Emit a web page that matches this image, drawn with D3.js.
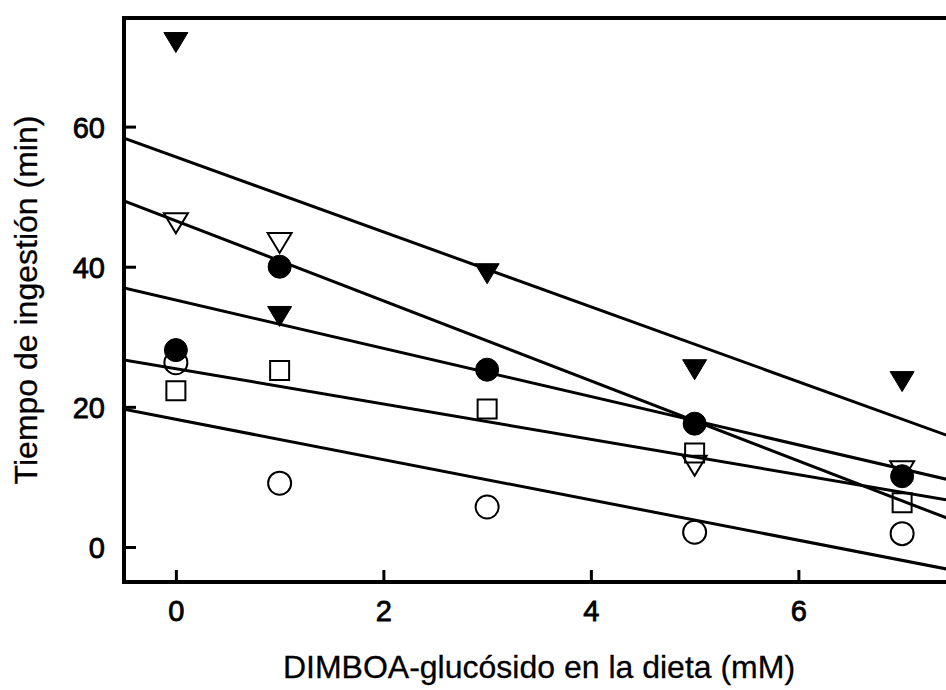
<!DOCTYPE html>
<html>
<head>
<meta charset="utf-8">
<script src="https://cdn.jsdelivr.net/npm/d3@7"></script>
<style>
  html, body { margin: 0; padding: 0; background: #fff; overflow: hidden; }
  svg { display: block; }
  text { font-family: "Liberation Sans", Arial, Helvetica, sans-serif; fill: #000; }
</style>
</head>
<body>
<svg id="chart" width="946" height="690"></svg>
<script>
// Dietary DIMBOA-glucoside concentration (mM)
const doses = [0, 1, 3, 5, 7];

// Feeding time (min) for each group at each dose (null = not measured)
const filledTriangle = [72.0, 32.9, 39.0, 25.3, 23.6];
const openTriangle   = [46.2, 43.4, null, 11.6, 10.8];
const filledCircle   = [28.1, 40.0, 25.3, 17.6, 10.1];
const openCircle     = [26.3, 9.1, 5.7, 2.1, 1.9];
const openSquare     = [22.3, 25.2, 19.7, 13.4, 6.3];

const xTicks = [0, 2, 4, 6];
const yTicks = [0, 20, 40, 60];

const xLabel = "DIMBOA-glucósido en la dieta (mM)";
const yLabel = "Tiempo de ingestión (min)";

const svg = d3.select("#chart");

const plot = { left: 124, right: 954, top: 18, bottom: 582 };

const x = d3.scaleLinear().domain([-0.5, 7.5]).range([plot.left, plot.right]);
const y = d3.scaleLinear().domain([-5, 75.5]).range([plot.bottom, plot.top]);

svg.append("defs").append("clipPath").attr("id", "plot-clip")
  .append("rect")
  .attr("x", plot.left).attr("y", plot.top)
  .attr("width", plot.right - plot.left).attr("height", plot.bottom - plot.top);

// Pairs [dose, value] for the measured points of one group
const pointsOf = ys => doses.map((d, i) => [d, ys[i]]).filter(p => p[1] != null);

// Least-squares fit of one group
function fit(ys) {
  const pts = pointsOf(ys);
  const mx = d3.mean(pts, p => p[0]), my = d3.mean(pts, p => p[1]);
  let sxy = 0, sxx = 0;
  pts.forEach(([d, v]) => { sxy += (d - mx) * (v - my); sxx += (d - mx) * (d - mx); });
  const slope = sxy / sxx;
  return { slope, intercept: my - slope * mx };
}

const series = [
  { values: openCircle,     shape: "circle",   filled: false },
  { values: openSquare,     shape: "square",   filled: false },
  { values: openTriangle,   shape: "triangle", filled: false },
  { values: filledTriangle, shape: "triangle", filled: true },
  { values: filledCircle,   shape: "circle",   filled: true }
];

// Regression lines
const lineGen = d3.line().x(d => x(d[0])).y(d => y(d[1]));
const lines = svg.append("g").attr("clip-path", "url(#plot-clip)");
series.forEach(s => {
  const f = fit(s.values);
  const [x0, x1] = x.domain();
  lines.append("path")
    .attr("d", lineGen([[x0, f.intercept + f.slope * x0], [x1, f.intercept + f.slope * x1]]))
    .attr("fill", "none")
    .attr("stroke", "#000")
    .attr("stroke-width", 3);
});

// Markers
function markerPath(shape) {
  if (shape === "triangle") {
    const w = 24, h = 20;
    return `M${-w / 2},${-h / 2}L${w / 2},${-h / 2}L0,${h / 2}Z`;
  }
  if (shape === "square") {
    const s = 19;
    return `M${-s / 2},${-s / 2}h${s}v${s}h${-s}Z`;
  }
  return d3.arc()({ innerRadius: 0, outerRadius: 11.5, startAngle: 0, endAngle: 2 * Math.PI });
}

const marks = svg.append("g");
series.forEach(s => {
  marks.selectAll(null)
    .data(pointsOf(s.values))
    .join("path")
    .attr("transform", d => `translate(${x(d[0])},${y(d[1])})`)
    .attr("d", markerPath(s.shape))
    .attr("fill", s.filled ? "#000" : "none")
    .attr("stroke", "#000")
    .attr("stroke-width", s.filled ? 1 : 2);
});

// Frame: left, bottom and top edges
const frame = svg.append("g").attr("stroke", "#000").attr("stroke-width", 4).attr("fill", "none");
frame.append("path").attr("d", `M${plot.left},${plot.top}V${plot.bottom}`);
frame.append("path").attr("d", `M${plot.left - 2},${plot.bottom}H${plot.right}`);
frame.append("path").attr("d", `M${plot.left - 2},${plot.top}H${plot.right}`);

// Axes with inward ticks
const xAxis = svg.append("g")
  .attr("transform", `translate(0,${plot.bottom})`)
  .call(d3.axisBottom(x).tickValues(xTicks).tickSizeInner(-12).tickSizeOuter(0).tickPadding(30).tickFormat(d3.format("d")));
const yAxis = svg.append("g")
  .attr("transform", `translate(${plot.left},0)`)
  .call(d3.axisLeft(y).tickValues(yTicks).tickSizeInner(-12).tickSizeOuter(0).tickPadding(32).tickFormat(d3.format("d")));

[xAxis, yAxis].forEach(g => {
  g.select(".domain").remove();
  g.selectAll(".tick line").attr("stroke", "#000").attr("stroke-width", 3);
  g.selectAll(".tick text")
    .attr("font-size", 29)
    .attr("font-family", "'Liberation Sans', Arial, sans-serif")
    .attr("fill", "#000")
    .attr("stroke", "#000")
    .attr("stroke-width", 0.8);
});
xAxis.selectAll(".tick text").attr("dy", "0.71em").attr("y", 18);
yAxis.selectAll(".tick text").attr("dy", "0.36em").attr("x", -19);

// Axis titles
svg.append("text")
  .attr("x", (plot.left + plot.right) / 2)
  .attr("y", 678)
  .attr("text-anchor", "middle")
  .attr("font-size", 32)
  .attr("stroke", "#000").attr("stroke-width", 0.3)
  .text(xLabel);

svg.append("text")
  .attr("transform", `translate(37,300) rotate(-90)`)
  .attr("text-anchor", "middle")
  .attr("font-size", 32)
  .attr("stroke", "#000").attr("stroke-width", 0.3)
  .text(yLabel);
</script>
</body>
</html>
